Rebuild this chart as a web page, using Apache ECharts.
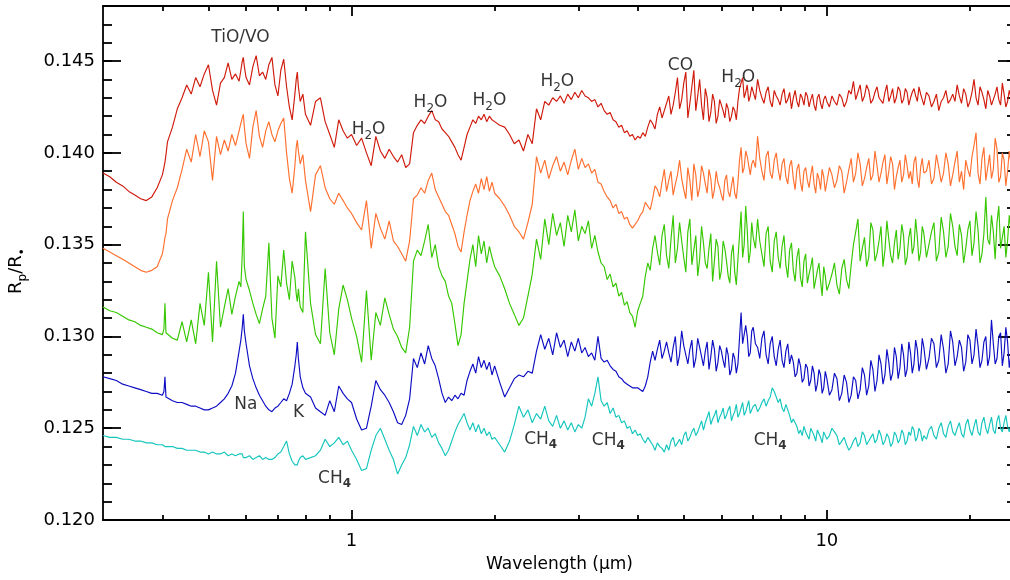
<!DOCTYPE html>
<html>
<head>
<meta charset="utf-8">
<script src="https://cdn.jsdelivr.net/npm/echarts@6/dist/echarts.min.js"></script>
<style>
  html, body { margin: 0; padding: 0; background: #ffffff; }
  #chart { width: 1010px; height: 580px; }
</style>
</head>
<body>
<div id="chart"></div>
<script>
// Wavelength grid (micron), shared by all five model spectra
const wavelength = [
  0.30, 0.31, 0.32, 0.33, 0.34, 0.35, 0.36, 0.37, 0.38, 0.39,
  0.40, 0.403, 0.405, 0.407,
  0.41, 0.42, 0.43, 0.44, 0.45, 0.46, 0.47, 0.48, 0.49, 0.50, 0.51, 0.52, 0.53, 0.54, 0.55, 0.56, 0.57, 0.58,
  0.585, 0.589, 0.592, 0.595,
  0.60, 0.61, 0.62, 0.63, 0.64, 0.65, 0.66, 0.67, 0.68, 0.69, 0.70, 0.71, 0.72, 0.73, 0.74, 0.75, 0.76,
  0.765, 0.769, 0.773,
  0.78, 0.79, 0.80,
  0.82, 0.84, 0.86, 0.88, 0.90, 0.92, 0.94, 0.96, 0.98, 1.00,
  1.025, 1.05, 1.075, 1.10, 1.125, 1.15, 1.175, 1.20, 1.225, 1.25,
  1.275, 1.30, 1.325, 1.35, 1.375, 1.40, 1.425, 1.45, 1.475, 1.50,
  1.525, 1.55, 1.575, 1.60, 1.625, 1.65, 1.675, 1.70, 1.725, 1.75,
  1.775, 1.80, 1.825, 1.85, 1.875, 1.90, 1.925, 1.95, 1.975, 2.00,
  2.05, 2.10, 2.15, 2.20, 2.25, 2.30, 2.35, 2.40, 2.45, 2.50,
  2.55, 2.60, 2.65, 2.70, 2.75, 2.80, 2.85, 2.90, 2.95, 3.00,
  3.05, 3.10, 3.15, 3.20, 3.25, 3.30, 3.35, 3.40, 3.45, 3.50,
  3.55, 3.60, 3.65, 3.70, 3.75, 3.80, 3.85, 3.90, 3.95, 4.00,
  4.05, 4.10, 4.15, 4.20, 4.25, 4.30, 4.35, 4.40, 4.45, 4.50, 4.55, 4.60, 4.65, 4.70, 4.75,
  4.80, 4.85, 4.90, 4.95, 5.00, 5.05, 5.10, 5.15, 5.20, 5.25, 5.30, 5.35, 5.40, 5.45, 5.50,
  5.55, 5.60, 5.65, 5.70, 5.75, 5.80, 5.85, 5.90, 5.95, 6.00, 6.05, 6.10, 6.15, 6.20, 6.25,
  6.30, 6.35, 6.40, 6.45, 6.50, 6.55, 6.60, 6.65, 6.70, 6.75, 6.80, 6.85, 6.90, 6.95, 7.00,
  7.075, 7.15, 7.225, 7.30, 7.375, 7.45, 7.525, 7.60, 7.675, 7.75,
  7.825, 7.90, 7.975, 8.05, 8.125, 8.20, 8.275, 8.35, 8.425, 8.50,
  8.575, 8.65, 8.725, 8.80, 8.875, 8.95, 9.025, 9.10, 9.175, 9.25,
  9.325, 9.40, 9.475, 9.55, 9.625, 9.70, 9.775, 9.85, 9.925, 10.0,
  10.125, 10.25, 10.375, 10.5, 10.625, 10.75, 10.875, 11.0, 11.125, 11.25, 11.375, 11.5,
  11.625, 11.75, 11.875, 12.0, 12.125, 12.25, 12.375, 12.5, 12.625, 12.75, 12.875, 13.0,
  13.125, 13.25, 13.375, 13.5, 13.625, 13.75, 13.875, 14.0, 14.125, 14.25, 14.375, 14.5,
  14.625, 14.75, 14.875, 15.0, 15.125, 15.25, 15.375, 15.5, 15.625, 15.75, 15.875, 16.0,
  16.2, 16.4, 16.6, 16.8, 17.0, 17.2, 17.4, 17.6, 17.8, 18.0, 18.2, 18.4, 18.6, 18.8, 19.0,
  19.2, 19.4, 19.6, 19.8, 20.0, 20.2, 20.4, 20.6, 20.8, 21.0, 21.2, 21.4, 21.6, 21.8, 22.0,
  22.2, 22.4, 22.6, 22.8, 23.0, 23.2, 23.4, 23.6, 23.8, 24.0, 24.2, 24.4, 24.6, 24.8, 25.0
];

// Rp/R* for each model atmosphere, hottest (top) to coolest (bottom)
const radiusRed = [
  0.1389, 0.1387, 0.1384, 0.1382, 0.1379, 0.1377, 0.1375, 0.1374, 0.1376, 0.1381,
  0.1388, 0.1392, 0.1395, 0.1399,
  0.1406, 0.1414, 0.1424, 0.1430, 0.1437, 0.1432, 0.1441, 0.1436, 0.1443, 0.1448, 0.1434, 0.1426, 0.1438, 0.1441, 0.1449, 0.1440, 0.1443, 0.1439,
  0.1445, 0.1450, 0.1452, 0.1447,
  0.1441, 0.1437, 0.1447, 0.1453, 0.1442, 0.1444, 0.1440, 0.1448, 0.1452, 0.1437, 0.1431, 0.1445, 0.1451, 0.1436, 0.1425, 0.1418, 0.1432,
  0.1440, 0.1444, 0.1436,
  0.1428, 0.1432, 0.1421,
  0.1415, 0.1428, 0.1430, 0.1417, 0.1410, 0.1403, 0.1418, 0.1412, 0.1408, 0.1410,
  0.1404, 0.1408, 0.1400, 0.1393, 0.1409, 0.1401, 0.1397, 0.1402, 0.1398, 0.1395,
  0.1399, 0.1392, 0.1394, 0.1411, 0.1415, 0.1418, 0.1416, 0.1420, 0.1423, 0.1418,
  0.1417, 0.1413, 0.1411, 0.1409, 0.1406, 0.1403, 0.1399, 0.1396, 0.1403, 0.1410,
  0.1414, 0.1418, 0.1416, 0.1420, 0.1418, 0.1421, 0.1417, 0.1420, 0.1418, 0.1417,
  0.1415, 0.1414, 0.1410, 0.1405, 0.1407, 0.1401, 0.1410, 0.1405, 0.1424, 0.1418,
  0.1428, 0.1426, 0.1430, 0.1428, 0.1431, 0.1427, 0.1432, 0.1429, 0.1433, 0.1430,
  0.1434, 0.1431, 0.1430, 0.1428, 0.1429, 0.1425, 0.1427, 0.1423, 0.1421, 0.1422,
  0.1418, 0.1417, 0.1414, 0.1415, 0.1411, 0.1412, 0.1409, 0.1410, 0.1407, 0.1409,
  0.1408, 0.1411, 0.1409, 0.1414, 0.1418, 0.1416, 0.1413, 0.1421, 0.1425, 0.1419, 0.1423, 0.1427, 0.1431, 0.1421, 0.1426,
  0.1433, 0.1441, 0.1424, 0.1429, 0.1438, 0.1444, 0.1419, 0.1427, 0.1436, 0.1445, 0.1423, 0.1431, 0.1440, 0.1426, 0.1418,
  0.1435, 0.1430, 0.1417, 0.1422, 0.1432, 0.1428, 0.1416, 0.1420, 0.1429, 0.1426, 0.1423, 0.1419, 0.1427, 0.1424, 0.1417,
  0.1420, 0.1425, 0.1423, 0.1418, 0.1428, 0.1435, 0.1434, 0.1441, 0.1430, 0.1433, 0.1437, 0.1428, 0.1431, 0.1436, 0.1435,
  0.1429, 0.1440, 0.1434, 0.1430, 0.1427, 0.1433, 0.1436, 0.1428, 0.1425, 0.1434,
  0.1431, 0.1429, 0.1426, 0.1432, 0.1435, 0.1427, 0.1429, 0.1433, 0.1424, 0.1430,
  0.1434, 0.1428, 0.1425, 0.1432, 0.1430, 0.1426, 0.1433, 0.1431, 0.1425, 0.1429,
  0.1432, 0.1426, 0.1423, 0.1430, 0.1432, 0.1427, 0.1424, 0.1429, 0.1431, 0.1428,
  0.1425, 0.1431, 0.1428, 0.1426, 0.1432, 0.1430, 0.1425, 0.1428, 0.1434, 0.1432, 0.1439, 0.1429,
  0.1433, 0.1437, 0.1428, 0.1431, 0.1437, 0.1434, 0.1427, 0.1429, 0.1433, 0.1436, 0.1430, 0.1431,
  0.1427, 0.1433, 0.1437, 0.1428, 0.1431, 0.1435, 0.1427, 0.1430, 0.1436, 0.1434, 0.1427, 0.1429,
  0.1435, 0.1433, 0.1426, 0.1430, 0.1433, 0.1435, 0.1431, 0.1428, 0.1436, 0.1432, 0.1429, 0.1426,
  0.1433, 0.1431, 0.1425, 0.1428, 0.1432, 0.1423, 0.1428, 0.1430, 0.1434, 0.1427, 0.1429, 0.1432, 0.1428, 0.1437, 0.1431,
  0.1427, 0.1435, 0.1432, 0.1425, 0.1428, 0.1433, 0.1440, 0.1430, 0.1426, 0.1436, 0.1433, 0.1429, 0.1424, 0.1434, 0.1431,
  0.1426, 0.1427, 0.1432, 0.1436, 0.1429, 0.1426, 0.1438, 0.1432, 0.1425, 0.1428, 0.1434, 0.1430, 0.1425, 0.1427, 0.1429
];

const radiusOrange = [
  0.1348, 0.1346, 0.1344, 0.1342, 0.1340, 0.1338, 0.1336, 0.1335, 0.1336, 0.1338,
  0.1345, 0.1350, 0.1354, 0.1356,
  0.1364, 0.1374, 0.1381, 0.1391, 0.1402, 0.1395, 0.1410, 0.1398, 0.1412, 0.1406, 0.1385, 0.1409, 0.1399, 0.1407, 0.1401, 0.1410, 0.1404, 0.1412,
  0.1416, 0.1419, 0.1421, 0.1414,
  0.1405, 0.1397, 0.1414, 0.1423, 0.1409, 0.1403, 0.1412, 0.1417, 0.1410, 0.1406, 0.1412, 0.1416, 0.1419, 0.1400, 0.1386, 0.1378, 0.1393,
  0.1403, 0.1407, 0.1401,
  0.1394, 0.1399, 0.1385,
  0.1368, 0.1388, 0.1393, 0.1381, 0.1375, 0.1372, 0.1378, 0.1374, 0.1370, 0.1367,
  0.1362, 0.1358, 0.1374, 0.1348, 0.1367, 0.1359, 0.1353, 0.1363, 0.1352, 0.1349,
  0.1345, 0.1341, 0.1352, 0.1375, 0.1377, 0.1381, 0.1378, 0.1385, 0.1389, 0.1380,
  0.1376, 0.1372, 0.1368, 0.1366, 0.1361, 0.1356, 0.1349, 0.1346, 0.1357, 0.1366,
  0.1374, 0.1379, 0.1383, 0.1378, 0.1386, 0.1380, 0.1387, 0.1379, 0.1384, 0.1378,
  0.1375, 0.1371, 0.1366, 0.1360, 0.1357, 0.1353, 0.1362, 0.1372, 0.1398, 0.1389,
  0.1396, 0.1386, 0.1393, 0.1398, 0.1390, 0.1395, 0.1388, 0.1396, 0.1402, 0.1391,
  0.1397, 0.1392, 0.1394, 0.1389, 0.1391, 0.1384, 0.1383, 0.1379, 0.1376, 0.1374,
  0.1370, 0.1372, 0.1367, 0.1368, 0.1364, 0.1365, 0.1361, 0.1359, 0.1361, 0.1363,
  0.1366, 0.1368, 0.1373, 0.1371, 0.1369, 0.1375, 0.1382, 0.1380, 0.1376, 0.1384, 0.1391, 0.1379, 0.1385, 0.1390, 0.1377,
  0.1383, 0.1388, 0.1396, 0.1386, 0.1380, 0.1375, 0.1392, 0.1385, 0.1374, 0.1394, 0.1388, 0.1376, 0.1381, 0.1393, 0.1389,
  0.1383, 0.1378, 0.1391, 0.1386, 0.1375, 0.1380, 0.1390, 0.1384, 0.1381, 0.1377, 0.1374, 0.1385, 0.1388, 0.1379, 0.1376,
  0.1382, 0.1387, 0.1378, 0.1375, 0.1384, 0.1396, 0.1403, 0.1389, 0.1392, 0.1401, 0.1398, 0.1393, 0.1388, 0.1394, 0.1396,
  0.1392, 0.1409, 0.1397, 0.1390, 0.1385, 0.1398, 0.1401, 0.1389, 0.1386, 0.1396,
  0.1400, 0.1391, 0.1385, 0.1394, 0.1397, 0.1387, 0.1383, 0.1393, 0.1396, 0.1386,
  0.1380, 0.1391, 0.1394, 0.1384, 0.1379, 0.1390, 0.1392, 0.1385, 0.1381, 0.1388,
  0.1393, 0.1383, 0.1378, 0.1389, 0.1386, 0.1380, 0.1391, 0.1387, 0.1379, 0.1384,
  0.1392, 0.1388, 0.1381, 0.1385, 0.1393, 0.1390, 0.1378, 0.1384, 0.1391, 0.1397, 0.1384, 0.1389,
  0.1400, 0.1394, 0.1382, 0.1386, 0.1392, 0.1397, 0.1385, 0.1388, 0.1401, 0.1393, 0.1384, 0.1389,
  0.1395, 0.1399, 0.1383, 0.1390, 0.1398, 0.1394, 0.1380, 0.1387, 0.1392, 0.1396, 0.1384, 0.1388,
  0.1399, 0.1393, 0.1386, 0.1390, 0.1383, 0.1395, 0.1398, 0.1386, 0.1381, 0.1392, 0.1397, 0.1389,
  0.1390, 0.1396, 0.1383, 0.1386, 0.1399, 0.1392, 0.1384, 0.1389, 0.1400, 0.1394, 0.1382, 0.1388, 0.1395, 0.1401, 0.1384,
  0.1390, 0.1380, 0.1396, 0.1391, 0.1387, 0.1398, 0.1404, 0.1411, 0.1389, 0.1383, 0.1397, 0.1403, 0.1385, 0.1392, 0.1399,
  0.1386, 0.1391, 0.1408, 0.1402, 0.1384, 0.1387, 0.1400, 0.1396, 0.1382, 0.1390, 0.1401, 0.1394, 0.1383, 0.1388, 0.1392
];

const radiusGreen = [
  0.1316, 0.1314, 0.1313, 0.1311, 0.1309, 0.1308, 0.1306, 0.1305, 0.1304, 0.1302,
  0.1301, 0.1304, 0.1318, 0.1302,
  0.1301, 0.1299, 0.1298, 0.1308, 0.1297, 0.1309, 0.1296, 0.1318, 0.1306, 0.1335, 0.1297, 0.1341, 0.1305, 0.1316, 0.1326, 0.1312, 0.1322, 0.1330,
  0.1327, 0.1345, 0.1368, 0.1338,
  0.1331, 0.1325, 0.1318, 0.1312, 0.1307, 0.1315, 0.1322, 0.1351, 0.1310, 0.1299, 0.1333, 0.1327, 0.1347, 0.1329, 0.1320, 0.1341, 0.1332,
  0.1323, 0.1319, 0.1326,
  0.1316, 0.1313, 0.1357,
  0.1318, 0.1301, 0.1296, 0.1337, 0.1302, 0.1290, 0.1315, 0.1328, 0.1320, 0.1310,
  0.1300, 0.1286, 0.1325, 0.1287, 0.1313, 0.1306, 0.1321, 0.1312, 0.1304, 0.1300,
  0.1294, 0.1291, 0.1305, 0.1341, 0.1347, 0.1344, 0.1352, 0.1361, 0.1343, 0.1350,
  0.1338, 0.1333, 0.1330, 0.1322, 0.1318, 0.1307, 0.1295, 0.1301, 0.1318, 0.1330,
  0.1342, 0.1350, 0.1338, 0.1355, 0.1345, 0.1352, 0.1340, 0.1349, 0.1343, 0.1338,
  0.1333, 0.1326, 0.1318, 0.1312, 0.1306, 0.1310, 0.1322, 0.1334, 0.1353, 0.1342,
  0.1364, 0.1350, 0.1367, 0.1355, 0.1362, 0.1349, 0.1366, 0.1357, 0.1369, 0.1352,
  0.1360, 0.1356, 0.1363, 0.1348, 0.1355, 0.1346, 0.1340, 0.1338, 0.1331, 0.1334,
  0.1327, 0.1329, 0.1322, 0.1324, 0.1317, 0.1319, 0.1313, 0.1311, 0.1305, 0.1314,
  0.1318, 0.1322, 0.1333, 0.1340, 0.1336, 0.1348, 0.1355, 0.1346, 0.1339, 0.1355, 0.1361, 0.1344, 0.1337, 0.1353, 0.1366,
  0.1340, 0.1348, 0.1362, 0.1352, 0.1343, 0.1335, 0.1357, 0.1364, 0.1339, 0.1347, 0.1355, 0.1333, 0.1342, 0.1360, 0.1351,
  0.1340, 0.1337, 0.1348, 0.1356, 0.1330, 0.1341, 0.1353, 0.1349, 0.1331, 0.1336, 0.1352, 0.1348, 0.1341, 0.1333, 0.1329,
  0.1345, 0.1350, 0.1335, 0.1328, 0.1342, 0.1355, 0.1368, 0.1343, 0.1350, 0.1371, 0.1358, 0.1340, 0.1346, 0.1362, 0.1354,
  0.1348, 0.1364, 0.1352, 0.1345, 0.1338, 0.1356, 0.1360, 0.1341, 0.1335, 0.1352,
  0.1357, 0.1343, 0.1337, 0.1349, 0.1355, 0.1339, 0.1332, 0.1347, 0.1351, 0.1336,
  0.1330, 0.1343, 0.1348, 0.1332, 0.1327, 0.1341, 0.1345, 0.1329, 0.1334, 0.1338,
  0.1343, 0.1326, 0.1331, 0.1336, 0.1340, 0.1330, 0.1322, 0.1338, 0.1333, 0.1325,
  0.1329, 0.1334, 0.1340, 0.1328, 0.1323, 0.1337, 0.1342, 0.1331, 0.1326, 0.1339, 0.1350, 0.1357,
  0.1364, 0.1341, 0.1348, 0.1354, 0.1338, 0.1343, 0.1362, 0.1358, 0.1341, 0.1345, 0.1352, 0.1360,
  0.1338, 0.1347, 0.1363, 0.1353, 0.1344, 0.1340, 0.1351, 0.1358, 0.1342, 0.1348, 0.1361, 0.1355,
  0.1339, 0.1343, 0.1354, 0.1359, 0.1345, 0.1349, 0.1364, 0.1354, 0.1341, 0.1346, 0.1360, 0.1356,
  0.1343, 0.1350, 0.1357, 0.1362, 0.1341, 0.1346, 0.1365, 0.1357, 0.1343, 0.1349, 0.1367, 0.1360, 0.1349, 0.1344, 0.1361,
  0.1355, 0.1340, 0.1348, 0.1358, 0.1363, 0.1344, 0.1351, 0.1368, 0.1358, 0.1340, 0.1345, 0.1356, 0.1376, 0.1353, 0.1350,
  0.1366, 0.1357, 0.1342, 0.1362, 0.1371, 0.1348, 0.1354, 0.1360, 0.1343, 0.1352, 0.1366, 0.1358, 0.1340, 0.1347, 0.1355
];

const radiusBlue = [
  0.1278, 0.1277, 0.1276, 0.1274, 0.1273, 0.1272, 0.1271, 0.1270, 0.1269, 0.1269,
  0.1268, 0.1270, 0.1278, 0.1267,
  0.1266, 0.1265, 0.1264, 0.1264, 0.1263, 0.1262, 0.1262, 0.1261, 0.1260, 0.1260, 0.1261, 0.1262, 0.1264, 0.1266, 0.1269, 0.1273, 0.1280, 0.1292,
  0.1298, 0.1305, 0.1312, 0.1303,
  0.1296, 0.1284, 0.1277, 0.1272, 0.1268, 0.1265, 0.1262, 0.1260, 0.1259, 0.1261, 0.1262, 0.1264, 0.1266, 0.1265, 0.1269, 0.1274, 0.1284,
  0.1290, 0.1297, 0.1288,
  0.1278, 0.1272, 0.1269,
  0.1267, 0.1261, 0.1259, 0.1257, 0.1265, 0.1259, 0.1273, 0.1269, 0.1266, 0.1264,
  0.1255, 0.1249, 0.1250, 0.1262, 0.1276, 0.1271, 0.1268, 0.1264, 0.1259, 0.1253,
  0.1252, 0.1257, 0.1266, 0.1288, 0.1283, 0.1291, 0.1285, 0.1295, 0.1288, 0.1284,
  0.1277, 0.1269, 0.1264, 0.1267, 0.1265, 0.1268, 0.1266, 0.1269, 0.1268, 0.1276,
  0.1281, 0.1285, 0.1280, 0.1289, 0.1283, 0.1287, 0.1282, 0.1286, 0.1279, 0.1284,
  0.1275, 0.1267, 0.1272, 0.1277, 0.1279, 0.1278, 0.1281, 0.1280, 0.1292, 0.1301,
  0.1293, 0.1299, 0.1290, 0.1302, 0.1294, 0.1298, 0.1289, 0.1297, 0.1292, 0.1299,
  0.1291, 0.1294, 0.1289, 0.1291, 0.1287, 0.1300, 0.1288, 0.1286, 0.1287, 0.1284,
  0.1282, 0.1281, 0.1278, 0.1277, 0.1275, 0.1274, 0.1273, 0.1272, 0.1272, 0.1272,
  0.1271, 0.1270, 0.1273, 0.1278, 0.1286, 0.1292, 0.1287, 0.1293, 0.1298, 0.1288, 0.1292, 0.1297, 0.1291, 0.1286, 0.1294,
  0.1300, 0.1284, 0.1290, 0.1303, 0.1295, 0.1290, 0.1285, 0.1293, 0.1298, 0.1283, 0.1288, 0.1299, 0.1294, 0.1289, 0.1284,
  0.1292, 0.1297, 0.1282, 0.1289, 0.1298, 0.1293, 0.1281, 0.1286, 0.1295, 0.1292, 0.1287, 0.1283, 0.1294, 0.1290, 0.1279,
  0.1282, 0.1291, 0.1288, 0.1280, 0.1285, 0.1299, 0.1313, 0.1296, 0.1295, 0.1306, 0.1300, 0.1289, 0.1291, 0.1303, 0.1305,
  0.1296, 0.1294, 0.1288, 0.1299, 0.1303, 0.1290, 0.1285, 0.1296, 0.1300, 0.1289,
  0.1284, 0.1293, 0.1298, 0.1287, 0.1283, 0.1292, 0.1296, 0.1285, 0.1290, 0.1286,
  0.1278, 0.1280, 0.1288, 0.1284, 0.1275, 0.1277, 0.1285, 0.1283, 0.1273, 0.1276,
  0.1284, 0.1280, 0.1270, 0.1274, 0.1282, 0.1279, 0.1269, 0.1272, 0.1281, 0.1277,
  0.1268, 0.1271, 0.1280, 0.1277, 0.1265, 0.1269, 0.1279, 0.1275, 0.1264, 0.1268, 0.1278, 0.1276,
  0.1266, 0.1271, 0.1283, 0.1279, 0.1268, 0.1273, 0.1287, 0.1282, 0.1270, 0.1276, 0.1290, 0.1285,
  0.1274, 0.1279, 0.1293, 0.1286, 0.1276, 0.1280, 0.1294, 0.1289, 0.1277, 0.1283, 0.1296, 0.1290,
  0.1278, 0.1282, 0.1297, 0.1291, 0.1280, 0.1285, 0.1298, 0.1293, 0.1281, 0.1286, 0.1299, 0.1294,
  0.1282, 0.1288, 0.1299, 0.1296, 0.1283, 0.1287, 0.1301, 0.1293, 0.1280, 0.1285, 0.1303, 0.1297, 0.1284, 0.1289, 0.1298,
  0.1294, 0.1281, 0.1286, 0.1301, 0.1298, 0.1285, 0.1290, 0.1304, 0.1295, 0.1283, 0.1287, 0.1297, 0.1300, 0.1284, 0.1289,
  0.1309, 0.1296, 0.1285, 0.1288, 0.1300, 0.1302, 0.1284, 0.1291, 0.1305, 0.1297, 0.1283, 0.1290, 0.1301, 0.1295, 0.1292
];

const radiusCyan = [
  0.1246, 0.1245, 0.1245, 0.1244, 0.1244, 0.1243, 0.1243, 0.1242, 0.1242, 0.1241,
  0.1241, 0.1240, 0.1240, 0.1240,
  0.1240, 0.1240, 0.1239, 0.1239, 0.1238, 0.1238, 0.1238, 0.1237, 0.1237, 0.1236, 0.1237, 0.1236, 0.1236, 0.1237, 0.1235, 0.1236, 0.1235, 0.1236,
  0.1235, 0.1236, 0.1234, 0.1235,
  0.1234, 0.1235, 0.1233, 0.1234, 0.1235, 0.1233, 0.1234, 0.1233, 0.1233, 0.1234, 0.1236, 0.1237, 0.1240, 0.1243, 0.1236, 0.1232, 0.1230,
  0.1231, 0.1230, 0.1232,
  0.1234, 0.1235, 0.1233,
  0.1234, 0.1235, 0.1238, 0.1244, 0.1240, 0.1242, 0.1245, 0.1241, 0.1243, 0.1238,
  0.1233, 0.1227, 0.1228, 0.1238, 0.1246, 0.1250, 0.1244, 0.1238, 0.1233, 0.1225,
  0.1230, 0.1234, 0.1241, 0.1251, 0.1246, 0.1252, 0.1248, 0.1250, 0.1245, 0.1247,
  0.1242, 0.1239, 0.1235, 0.1238, 0.1243, 0.1248, 0.1252, 0.1255, 0.1258, 0.1253,
  0.1249, 0.1253, 0.1248, 0.1252, 0.1247, 0.1250, 0.1246, 0.1248, 0.1244, 0.1245,
  0.1241, 0.1237, 0.1243, 0.1252, 0.1262, 0.1256, 0.1260, 0.1253, 0.1258, 0.1255,
  0.1262, 0.1254, 0.1251, 0.1257, 0.1250, 0.1254, 0.1249, 0.1253, 0.1248, 0.1252,
  0.1250, 0.1256, 0.1266, 0.1262, 0.1269, 0.1278, 0.1265, 0.1262, 0.1264, 0.1258,
  0.1261, 0.1256, 0.1257, 0.1253, 0.1254, 0.1250, 0.1251, 0.1247, 0.1249, 0.1246,
  0.1247, 0.1244, 0.1242, 0.1245, 0.1243, 0.1241, 0.1238, 0.1242, 0.1240, 0.1239, 0.1237, 0.1241, 0.1238, 0.1243, 0.1245,
  0.1240, 0.1242, 0.1244, 0.1241, 0.1246, 0.1248, 0.1243, 0.1245, 0.1248, 0.1250, 0.1246, 0.1248, 0.1251, 0.1254, 0.1249,
  0.1253, 0.1256, 0.1259, 0.1252, 0.1255, 0.1257, 0.1260, 0.1253, 0.1256, 0.1258, 0.1261, 0.1255, 0.1257, 0.1260, 0.1262,
  0.1254, 0.1257, 0.1259, 0.1263, 0.1256, 0.1258, 0.1261, 0.1264, 0.1257, 0.1259, 0.1262, 0.1265, 0.1258, 0.1260, 0.1262,
  0.1263, 0.1259, 0.1261, 0.1264, 0.1266, 0.1262, 0.1265, 0.1267, 0.1272, 0.1270,
  0.1267, 0.1264, 0.1266, 0.1261, 0.1259, 0.1263, 0.1260, 0.1257, 0.1253, 0.1255,
  0.1253, 0.1251, 0.1247, 0.1249, 0.1246, 0.1251, 0.1248, 0.1247, 0.1244, 0.1250,
  0.1248, 0.1246, 0.1243, 0.1249, 0.1247, 0.1245, 0.1242, 0.1248, 0.1246, 0.1244,
  0.1246, 0.1250, 0.1248, 0.1246, 0.1241, 0.1243, 0.1245, 0.1241, 0.1238, 0.1240, 0.1243, 0.1245,
  0.1240, 0.1242, 0.1248, 0.1246, 0.1241, 0.1243, 0.1245, 0.1247, 0.1242, 0.1244, 0.1249, 0.1246,
  0.1241, 0.1243, 0.1247, 0.1245, 0.1240, 0.1242, 0.1248, 0.1246, 0.1242, 0.1244, 0.1249, 0.1247,
  0.1241, 0.1243, 0.1248, 0.1246, 0.1251, 0.1249, 0.1243, 0.1245, 0.1250, 0.1248, 0.1243, 0.1246,
  0.1244, 0.1249, 0.1251, 0.1246, 0.1244, 0.1250, 0.1253, 0.1247, 0.1245, 0.1251, 0.1254, 0.1248, 0.1246, 0.1250, 0.1253,
  0.1247, 0.1245, 0.1252, 0.1255, 0.1249, 0.1246, 0.1251, 0.1255, 0.1248, 0.1246, 0.1253, 0.1256, 0.1250, 0.1247, 0.1252,
  0.1256, 0.1249, 0.1247, 0.1254, 0.1257, 0.1250, 0.1248, 0.1253, 0.1257, 0.1251, 0.1248, 0.1252, 0.1256, 0.1250, 0.1251
];

// Molecular / atomic feature labels: wavelength, Rp/R*, text
const featureWavelength = [0.584, 1.086, 1.466, 1.95, 2.71, 4.92, 6.51, 0.599, 0.774, 0.921, 2.50, 3.47, 7.60];
const featureRadius     = [0.14630, 0.14125, 0.14272, 0.14283, 0.14386, 0.14478, 0.14408, 0.12630, 0.12587, 0.12228, 0.12440, 0.12435, 0.12435];
const featureText = ['TiO/VO', 'H{s|2}O', 'H{s|2}O', 'H{s|2}O', 'H{s|2}O', 'CO', 'H{s|2}O', 'Na', 'K', 'CH{b|4}', 'CH{b|4}', 'CH{b|4}', 'CH{b|4}'];

// Axis ticks
const xMajorTicks = [1, 10];
const xMinorTicks = [0.4, 0.5, 0.6, 0.7, 0.8, 0.9, 2, 3, 4, 5, 6, 7, 8, 9, 20];
const yMajorTicks = [0.120, 0.125, 0.130, 0.135, 0.140, 0.145];

const seriesDefs = [
  { name: 'cyan',   color: '#14c6bd', values: radiusCyan },
  { name: 'blue',   color: '#0d0dc4', values: radiusBlue },
  { name: 'green',  color: '#35c700', values: radiusGreen },
  { name: 'orange', color: '#ff6f2e', values: radiusOrange },
  { name: 'red',    color: '#cf1a0c', values: radiusRed }
];

const FONT = 'DejaVu Sans';
const AXIS_W = 1.8;
const X_MIN = 0.3, X_MAX = 25, Y_MIN = 0.120, Y_MAX = 0.148;
// The right edge of the frame (25 micron) sits just past the canvas edge
const GRID = { left: 103, right: -6, top: 6, bottom: 60, containLabel: false, outerBoundsMode: 'none' };

// Main log axes carry the frame and the decade ticks/labels
function xMajorAxis(position, withLabels) {
  return {
    type: 'log', logBase: 10, min: X_MIN, max: X_MAX, position: position, gridIndex: 0,
    axisLine: { show: true, onZero: false, lineStyle: { color: '#000', width: AXIS_W } },
    axisTick: { show: true, inside: true, length: 10, customValues: xMajorTicks,
                lineStyle: { color: '#000', width: AXIS_W } },
    axisLabel: withLabels ? {
      show: true, customValues: xMajorTicks, margin: 12, color: '#000',
      fontSize: 18, fontFamily: FONT, formatter: v => String(Math.round(v))
    } : { show: false },
    splitLine: { show: false }, minorTick: { show: false }
  };
}

// Overlay axis in log10 space, only used to place the 2..9 minor ticks
function xMinorAxis(position) {
  return {
    type: 'value', gridIndex: 1, position: position,
    min: Math.log10(X_MIN), max: Math.log10(X_MAX),
    axisLine: { show: false, onZero: false },
    axisTick: { show: true, inside: true, length: 5,
                customValues: xMinorTicks.map(v => Math.log10(v)),
                lineStyle: { color: '#000', width: AXIS_W } },
    axisLabel: { show: false },
    splitLine: { show: false }
  };
}

function yMajorAxis(position, withLabels) {
  return {
    type: 'value', min: Y_MIN, max: Y_MAX, position: position, gridIndex: 0,
    axisLine: { show: true, onZero: false, lineStyle: { color: '#000', width: AXIS_W } },
    axisTick: { show: true, inside: true, length: 18, customValues: yMajorTicks,
                lineStyle: { color: '#000', width: AXIS_W } },
    axisLabel: withLabels ? {
      show: true, customValues: yMajorTicks, margin: 8, color: '#000',
      fontSize: 18, fontFamily: FONT, formatter: v => v.toFixed(3)
    } : { show: false },
    splitLine: { show: false }
  };
}

function yMinorAxis(position) {
  return {
    type: 'value', min: Y_MIN, max: Y_MAX, interval: 0.001, position: position, gridIndex: 1,
    axisLine: { show: false, onZero: false },
    axisTick: { show: true, inside: true, length: 9,
                lineStyle: { color: '#000', width: AXIS_W } },
    axisLabel: { show: false },
    splitLine: { show: false }
  };
}

const xAxes = [xMajorAxis('bottom', true), xMajorAxis('top', false), xMinorAxis('bottom'), xMinorAxis('top')];
xAxes[0].name = 'Wavelength (\u03bcm)';
xAxes[0].nameLocation = 'middle';
xAxes[0].nameGap = 36;
xAxes[0].nameTextStyle = { color: '#000', fontSize: 17, fontFamily: FONT };

const yAxes = [yMajorAxis('left', true), yMajorAxis('right', false), yMinorAxis('left'), yMinorAxis('right')];
yAxes[0].name = '{m|R}{s|p}{m|/R}{s|\u2022}';
yAxes[0].nameLocation = 'middle';
yAxes[0].nameRotate = 90;
yAxes[0].nameGap = 74;
yAxes[0].nameTextStyle = {
  color: '#000', fontFamily: FONT, padding: [0, 16, 0, 0],
  rich: {
    m: { fontSize: 18, fontFamily: FONT, color: '#000', lineHeight: 26 },
    s: { fontSize: 12, fontFamily: FONT, color: '#000', lineHeight: 12, verticalAlign: 'bottom' }
  }
};

const series = seriesDefs.map(d => ({
  name: d.name,
  type: 'line',
  xAxisIndex: 0, yAxisIndex: 0,
  data: wavelength.map((w, i) => [w, d.values[i]]),
  showSymbol: false,
  symbol: 'none',
  lineStyle: { color: d.color, width: 1.15 },
  silent: true,
  animation: false
}));

series.push({
  name: 'features',
  type: 'scatter',
  xAxisIndex: 0, yAxisIndex: 0,
  data: featureWavelength.map((w, i) => [w, featureRadius[i]]),
  symbolSize: 1,
  itemStyle: { color: 'rgba(0,0,0,0)' },
  silent: true,
  animation: false,
  z: 10,
  label: {
    show: true, position: 'inside', color: '#000',
    fontSize: 17, fontFamily: FONT, lineHeight: 24,
    formatter: p => featureText[p.dataIndex],
    rich: {
      s: { fontSize: 12, fontFamily: FONT, color: '#000', lineHeight: 12, verticalAlign: 'bottom' },
      b: { fontSize: 12, fontFamily: FONT, fontWeight: 'bold', color: '#000', lineHeight: 12, verticalAlign: 'bottom' }
    }
  }
});

const chart = echarts.init(document.getElementById('chart'), null, { renderer: 'canvas' });
chart.setOption({
  animation: false,
  backgroundColor: '#ffffff',
  grid: [Object.assign({}, GRID), Object.assign({}, GRID)],
  xAxis: xAxes,
  yAxis: yAxes,
  series: series
});
</script>
</body>
</html>
